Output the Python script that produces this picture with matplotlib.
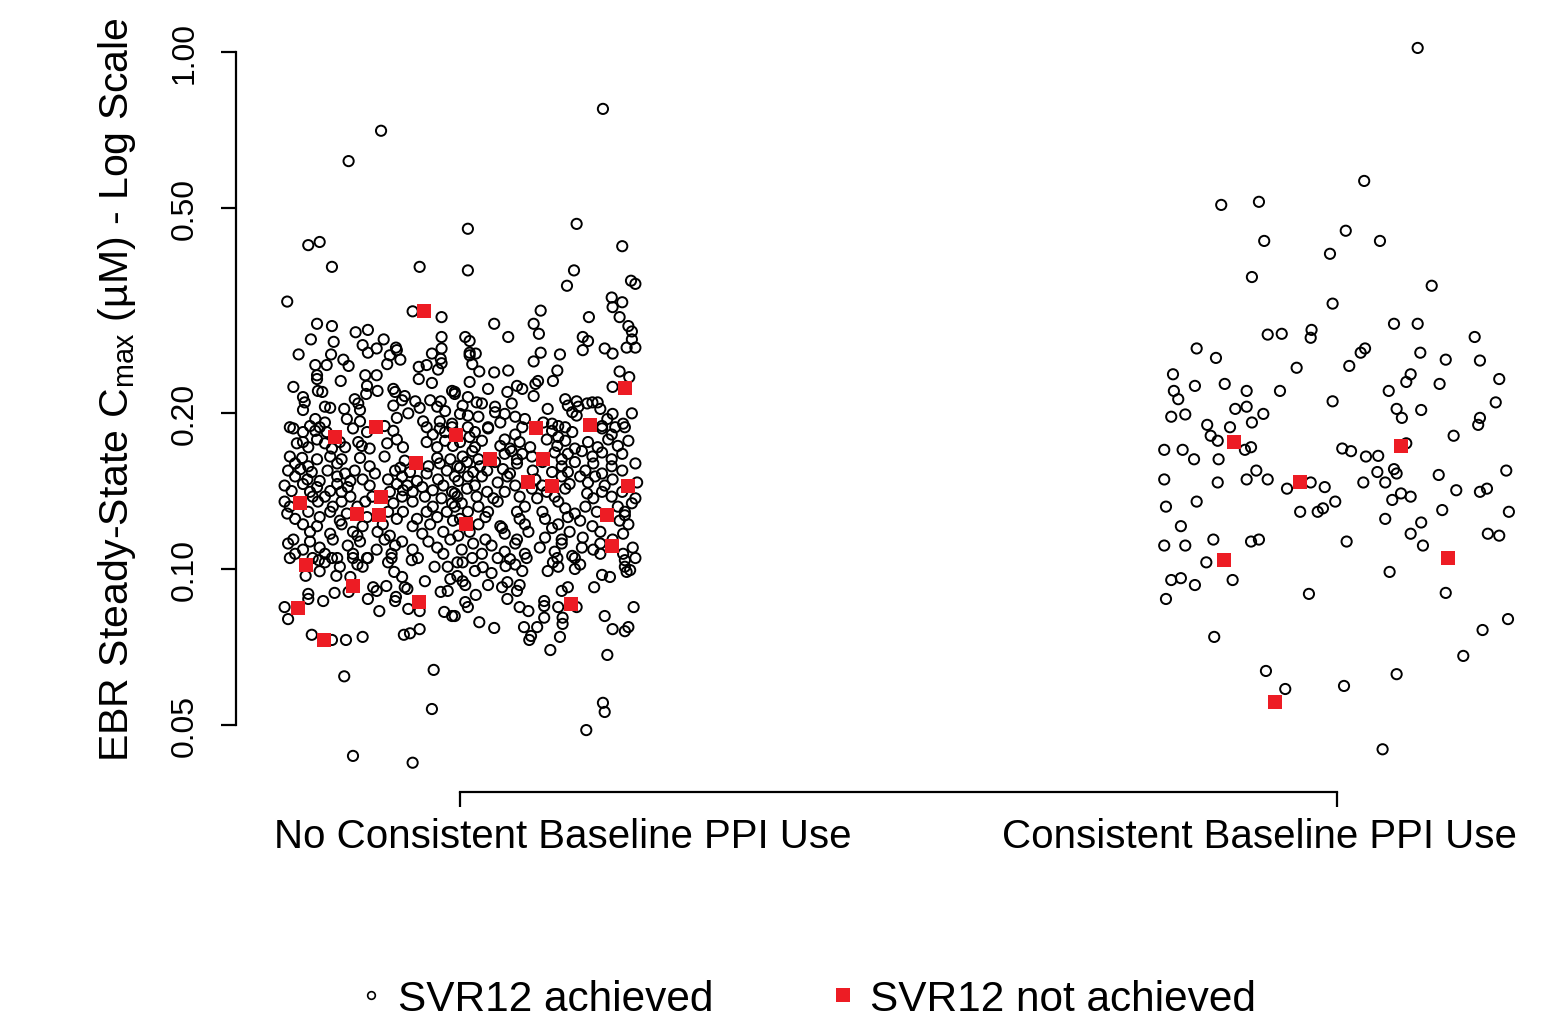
import matplotlib
matplotlib.use('Agg')
import matplotlib.pyplot as plt
from matplotlib.lines import Line2D
from matplotlib.ticker import NullLocator

plt.rcParams['font.family'] = ['Liberation Sans', 'DejaVu Sans']
plt.rcParams['mathtext.fontset'] = 'custom'
plt.rcParams['mathtext.rm'] = 'Liberation Sans'

# groups and labels
groups = ['No Consistent Baseline PPI Use', 'Consistent Baseline PPI Use']
group_pos = [1, 2]
yticks = [0.05, 0.10, 0.20, 0.50, 1.00]
ytick_labels = ['0.05', '0.10', '0.20', '0.50', '1.00']
legend_labels = ['SVR12 achieved', 'SVR12 not achieved']

# (jitter, EBR Cmax in uM)
no_ppi_achieved = [
    (-0.090, 0.704), (-0.127, 0.615), (-0.173, 0.423), (-0.160, 0.429), (-0.146, 0.384), (-0.046, 0.384),
    (0.163, 0.776), (0.009, 0.455), (0.133, 0.465), (0.185, 0.421), (0.009, 0.378), (0.130, 0.378),
    (0.122, 0.353), (0.195, 0.361), (0.200, 0.356),
    # upper cloud, left half
    (-0.197, 0.329), (-0.054, 0.315), (-0.021, 0.307), (-0.163, 0.298), (-0.146, 0.295), (-0.119, 0.287),
    (-0.105, 0.290), (-0.170, 0.278), (-0.144, 0.275), (-0.087, 0.278), (-0.021, 0.281), (-0.111, 0.271),
    (-0.095, 0.267), (-0.073, 0.268), (-0.072, 0.265), (-0.105, 0.262), (-0.021, 0.267), (-0.184, 0.260),
    (-0.147, 0.260), (-0.080, 0.259), (-0.068, 0.254), (-0.032, 0.261), (-0.022, 0.255), (-0.133, 0.254),
    (-0.165, 0.248), (-0.152, 0.248), (-0.127, 0.247), (-0.083, 0.249), (-0.047, 0.246), (-0.038, 0.248),
    (-0.021, 0.250), (-0.025, 0.243), (-0.163, 0.237), (-0.163, 0.233), (-0.108, 0.237), (-0.095, 0.237),
    (-0.136, 0.231), (-0.047, 0.233), (-0.032, 0.229), (-0.190, 0.225), (-0.162, 0.221), (-0.157, 0.220),
    (-0.106, 0.226), (-0.094, 0.221), (-0.076, 0.223), (-0.074, 0.220), (-0.063, 0.216), (-0.009, 0.221),
    (-0.179, 0.215), (-0.177, 0.210), (-0.179, 0.203), (-0.120, 0.213), (-0.116, 0.209), (-0.107, 0.218),
    (-0.066, 0.212), (-0.051, 0.211), (-0.034, 0.212), (-0.022, 0.211), (-0.154, 0.206), (-0.148, 0.205),
    (-0.132, 0.204), (-0.114, 0.203), (-0.076, 0.207), (-0.046, 0.205), (-0.026, 0.206), (-0.017, 0.202),
    (-0.059, 0.200), (-0.006, 0.218), (-0.165, 0.195), (-0.194, 0.188), (-0.154, 0.192), (-0.129, 0.195),
    (-0.114, 0.193), (-0.072, 0.196), (-0.042, 0.193), (-0.023, 0.193), (-0.009, 0.191),
    # upper cloud, right half
    (0.173, 0.335), (0.185, 0.328), (0.174, 0.321), (0.092, 0.316), (0.147, 0.307), (0.039, 0.298),
    (0.084, 0.298), (0.182, 0.307), (0.192, 0.295), (0.090, 0.285), (0.055, 0.281), (0.006, 0.281),
    (0.011, 0.276), (0.140, 0.281), (0.146, 0.276), (0.196, 0.288), (0.196, 0.278), (0.190, 0.268),
    (0.200, 0.268), (0.140, 0.265), (0.165, 0.267), (0.174, 0.261), (0.011, 0.262), (0.018, 0.261),
    (0.011, 0.259), (0.092, 0.262), (0.114, 0.260), (0.084, 0.252), (0.014, 0.249), (0.022, 0.241),
    (0.039, 0.240), (0.055, 0.242), (0.111, 0.242), (0.106, 0.231), (0.182, 0.241), (0.193, 0.235),
    (0.011, 0.230), (0.065, 0.226), (0.071, 0.223), (0.086, 0.228), (0.089, 0.231), (0.174, 0.225),
    (0.032, 0.223), (0.054, 0.220), (0.084, 0.216), (0.009, 0.215), (-0.006, 0.220), (0.120, 0.213),
    (0.133, 0.211), (0.151, 0.210), (0.157, 0.210), (0.003, 0.207), (0.019, 0.210), (0.025, 0.209),
    (0.040, 0.206), (0.059, 0.209), (0.123, 0.207), (0.135, 0.206), (0.145, 0.209), (0.160, 0.204),
    (0.100, 0.204), (0.000, 0.1995), (0.009, 0.198), (0.021, 0.197), (0.040, 0.201), (0.051, 0.1995),
    (0.063, 0.197), (0.074, 0.195), (0.128, 0.201), (0.133, 0.198), (0.174, 0.1995), (0.196, 0.200),
    (0.168, 0.195), (0.095, 0.192), (0.105, 0.191), (0.032, 0.188), (0.046, 0.192), (0.112, 0.189),
    (0.162, 0.189), (0.177, 0.188), (0.186, 0.191),
    # dense band, left half
    (-0.190, 0.187), (-0.179, 0.184), (-0.171, 0.189), (-0.165, 0.185), (-0.160, 0.188), (-0.152, 0.184),
    (-0.122, 0.187), (-0.106, 0.184), (-0.086, 0.189), (-0.076, 0.185), (-0.038, 0.188), (-0.031, 0.182),
    (-0.023, 0.187), (-0.017, 0.184), (-0.009, 0.188),
    (-0.186, 0.175), (-0.179, 0.176), (-0.173, 0.172), (-0.163, 0.178), (-0.154, 0.175), (-0.146, 0.171),
    (-0.137, 0.176), (-0.131, 0.172), (-0.116, 0.176), (-0.112, 0.173), (-0.103, 0.171), (-0.083, 0.175),
    (-0.072, 0.178), (-0.065, 0.172), (-0.038, 0.176), (-0.026, 0.172), (-0.017, 0.177), (-0.008, 0.173),
    (-0.194, 0.165), (-0.188, 0.160), (-0.180, 0.164), (-0.173, 0.158), (-0.163, 0.163), (-0.148, 0.165),
    (-0.140, 0.160), (-0.135, 0.163), (-0.114, 0.164), (-0.103, 0.158), (-0.086, 0.165), (-0.068, 0.157),
    (-0.063, 0.162), (-0.036, 0.158), (-0.026, 0.164), (-0.023, 0.160), (-0.011, 0.163), (-0.003, 0.158),
    (-0.196, 0.155), (-0.188, 0.151), (-0.182, 0.156), (-0.174, 0.149), (-0.169, 0.154), (-0.160, 0.148),
    (-0.151, 0.155), (-0.140, 0.151), (-0.131, 0.153), (-0.125, 0.148), (-0.120, 0.155), (-0.111, 0.149),
    (-0.097, 0.153), (-0.082, 0.149), (-0.074, 0.155), (-0.066, 0.151), (-0.057, 0.154), (-0.049, 0.148),
    (-0.038, 0.153), (-0.025, 0.149), (-0.015, 0.155), (-0.006, 0.151),
    (-0.200, 0.145), (-0.192, 0.1415), (-0.179, 0.146), (-0.171, 0.141), (-0.163, 0.144), (-0.148, 0.1415),
    (-0.140, 0.146), (-0.135, 0.141), (-0.128, 0.144), (-0.103, 0.145), (-0.080, 0.141), (-0.072, 0.146),
    (-0.065, 0.142), (-0.060, 0.145), (-0.054, 0.141), (-0.043, 0.144), (-0.031, 0.142), (-0.019, 0.145),
    (-0.009, 0.141),
    (-0.200, 0.135), (-0.194, 0.132), (-0.168, 0.138), (-0.162, 0.135), (-0.154, 0.138), (-0.145, 0.132),
    (-0.135, 0.135), (-0.125, 0.138), (-0.117, 0.132), (-0.108, 0.135), (-0.100, 0.138), (-0.076, 0.134),
    (-0.066, 0.138), (-0.054, 0.135), (-0.040, 0.138), (-0.031, 0.132), (-0.021, 0.137), (-0.009, 0.134),
    (-0.003, 0.138),
    (-0.197, 0.128), (-0.188, 0.125), (-0.173, 0.129), (-0.160, 0.126), (-0.148, 0.129), (-0.137, 0.124),
    (-0.129, 0.128), (-0.106, 0.126), (-0.082, 0.129), (-0.072, 0.125), (-0.065, 0.129), (-0.049, 0.125),
    (-0.038, 0.129), (-0.026, 0.126), (-0.015, 0.129), (-0.008, 0.124),
    (-0.179, 0.122), (-0.171, 0.118), (-0.163, 0.121), (-0.148, 0.117), (-0.135, 0.122), (-0.122, 0.118),
    (-0.117, 0.116), (-0.111, 0.121), (-0.094, 0.118), (-0.088, 0.122), (-0.080, 0.116), (-0.054, 0.121),
    (-0.043, 0.117), (-0.034, 0.122), (-0.019, 0.118),
    (-0.196, 0.112), (-0.190, 0.114), (-0.179, 0.109), (-0.171, 0.113), (-0.160, 0.110), (-0.145, 0.114),
    (-0.128, 0.111), (-0.114, 0.113), (-0.095, 0.109), (-0.086, 0.114), (-0.074, 0.111), (-0.066, 0.113),
    (-0.054, 0.109), (-0.036, 0.113), (-0.026, 0.110), (-0.011, 0.114),
    (-0.188, 0.107), (-0.168, 0.105), (-0.154, 0.107), (-0.140, 0.105), (-0.122, 0.107), (-0.106, 0.105),
    (-0.078, 0.107), (-0.048, 0.105), (-0.019, 0.107),
    # dense band, right half
    (0.009, 0.188), (0.017, 0.184), (0.032, 0.187), (0.063, 0.182), (0.071, 0.188), (0.105, 0.185),
    (0.112, 0.180), (0.120, 0.188), (0.128, 0.184), (0.162, 0.187), (0.173, 0.182), (0.188, 0.188),
    (0.000, 0.176), (0.011, 0.180), (0.017, 0.172), (0.025, 0.177), (0.046, 0.173), (0.051, 0.178),
    (0.057, 0.171), (0.068, 0.176), (0.080, 0.172), (0.099, 0.178), (0.111, 0.173), (0.120, 0.177),
    (0.131, 0.171), (0.146, 0.176), (0.157, 0.172), (0.169, 0.178), (0.180, 0.173), (0.192, 0.177),
    (0.003, 0.165), (0.014, 0.169), (0.021, 0.163), (0.051, 0.167), (0.059, 0.169), (0.065, 0.163),
    (0.071, 0.167), (0.082, 0.165), (0.108, 0.168), (0.116, 0.163), (0.123, 0.167), (0.139, 0.169),
    (0.151, 0.165), (0.162, 0.168), (0.173, 0.163), (0.185, 0.167),
    (0.000, 0.157), (0.008, 0.161), (0.015, 0.154), (0.023, 0.158), (0.031, 0.155), (0.040, 0.161),
    (0.049, 0.156), (0.057, 0.153), (0.065, 0.160), (0.083, 0.155), (0.094, 0.161), (0.105, 0.154),
    (0.116, 0.158), (0.123, 0.154), (0.131, 0.161), (0.143, 0.155), (0.152, 0.160), (0.162, 0.153),
    (0.173, 0.158), (0.185, 0.155), (0.200, 0.160),
    (-0.002, 0.148), (0.009, 0.151), (0.017, 0.145), (0.025, 0.151), (0.043, 0.147), (0.054, 0.151),
    (0.063, 0.145), (0.086, 0.149), (0.094, 0.145), (0.116, 0.151), (0.125, 0.146), (0.137, 0.151),
    (0.146, 0.147), (0.154, 0.151), (0.165, 0.145), (0.174, 0.149), (0.202, 0.147),
    (-0.006, 0.140), (0.008, 0.143), (0.019, 0.138), (0.031, 0.141), (0.038, 0.137), (0.051, 0.141),
    (0.068, 0.138), (0.082, 0.143), (0.088, 0.137), (0.099, 0.141), (0.108, 0.138), (0.120, 0.143),
    (0.145, 0.140), (0.152, 0.137), (0.162, 0.141), (0.173, 0.138), (0.185, 0.141), (0.200, 0.137),
    (-0.006, 0.132), (0.002, 0.134), (0.009, 0.129), (0.021, 0.132), (0.032, 0.129), (0.043, 0.135),
    (0.065, 0.129), (0.074, 0.132), (0.094, 0.129), (0.112, 0.135), (0.120, 0.131), (0.131, 0.128),
    (0.143, 0.132), (0.156, 0.129), (0.180, 0.132), (0.188, 0.129), (0.196, 0.134),
    (0.000, 0.125), (0.021, 0.122), (0.029, 0.126), (0.046, 0.121), (0.068, 0.125), (0.074, 0.122),
    (0.097, 0.125), (0.112, 0.122), (0.123, 0.126), (0.137, 0.124), (0.151, 0.121), (0.182, 0.124),
    (0.188, 0.127), (0.192, 0.122),
    (-0.002, 0.116), (0.011, 0.118), (0.029, 0.114), (0.048, 0.120), (0.051, 0.117), (0.065, 0.114),
    (0.078, 0.118), (0.097, 0.115), (0.105, 0.120), (0.116, 0.114), (0.125, 0.118), (0.140, 0.115),
    (0.160, 0.118), (0.174, 0.114), (0.186, 0.117),
    (0.002, 0.109), (0.015, 0.112), (0.025, 0.107), (0.036, 0.111), (0.051, 0.108), (0.063, 0.112),
    (0.074, 0.107), (0.091, 0.110), (0.108, 0.108), (0.116, 0.112), (0.128, 0.106), (0.139, 0.110),
    (0.152, 0.109), (0.160, 0.112), (0.186, 0.107), (0.197, 0.110),
    # lower cloud, left half
    (-0.194, 0.105), (-0.161, 0.104), (-0.154, 0.103), (-0.146, 0.105), (-0.122, 0.105), (-0.117, 0.102),
    (-0.111, 0.101), (-0.105, 0.105), (-0.137, 0.101), (-0.078, 0.105), (-0.082, 0.103), (-0.055, 0.104),
    (-0.029, 0.101), (-0.014, 0.101), (-0.003, 0.103),
    (-0.176, 0.097), (-0.160, 0.099), (-0.141, 0.097), (-0.125, 0.0965), (-0.075, 0.0987), (-0.066, 0.0965),
    (-0.040, 0.0947), (-0.011, 0.0956),
    (-0.143, 0.0899), (-0.127, 0.0903), (-0.099, 0.0922), (-0.095, 0.0907), (-0.084, 0.0927), (-0.063, 0.0922),
    (-0.060, 0.0915), (-0.022, 0.0903), (-0.014, 0.0907),
    (-0.173, 0.0895), (-0.173, 0.0875), (-0.156, 0.0867), (-0.105, 0.0875), (-0.073, 0.0883), (-0.074, 0.0867),
    (-0.200, 0.0844), (-0.196, 0.0800), (-0.092, 0.0829), (-0.059, 0.0837), (-0.046, 0.0829), (-0.018, 0.0826),
    (-0.009, 0.0811),
    (-0.169, 0.0746), (-0.146, 0.0729), (-0.130, 0.0729), (-0.111, 0.0739), (-0.064, 0.0746), (-0.057, 0.0751),
    (-0.046, 0.0765),
    (-0.132, 0.0620), (-0.030, 0.0638), (-0.032, 0.0536), (-0.122, 0.0435), (-0.054, 0.0422),
    # lower cloud, right half
    (0.014, 0.105), (0.003, 0.103), (0.043, 0.105), (0.057, 0.1045), (0.063, 0.102), (0.076, 0.105),
    (0.111, 0.105), (0.131, 0.105), (0.106, 0.103), (0.112, 0.101), (0.137, 0.102), (0.131, 0.100),
    (0.160, 0.107), (0.188, 0.104), (0.200, 0.105), (0.188, 0.101), (0.194, 0.0995), (0.190, 0.0987),
    (-0.003, 0.0969), (0.017, 0.0991), (0.026, 0.1008), (0.036, 0.0982), (0.052, 0.1013), (0.071, 0.0991),
    (0.100, 0.0991),
    (0.003, 0.0947), (0.006, 0.0931), (0.032, 0.0931), (0.048, 0.0922), (0.054, 0.0943), (0.068, 0.0931),
    (0.065, 0.0907), (0.116, 0.0907), (0.123, 0.0922), (0.153, 0.0922), (0.162, 0.0974), (0.171, 0.0965),
    (0.018, 0.0891), (0.006, 0.0863), (0.009, 0.0844), (0.054, 0.0875), (0.068, 0.0844), (0.078, 0.0829),
    (0.096, 0.0867), (0.096, 0.0848), (0.112, 0.0844), (0.133, 0.0844), (0.198, 0.0844),
    (-0.006, 0.0811), (0.022, 0.0789), (0.039, 0.0769), (0.073, 0.0772), (0.088, 0.0772), (0.081, 0.0742),
    (0.079, 0.0729), (0.096, 0.0805), (0.117, 0.0805), (0.117, 0.0783), (0.114, 0.0739), (0.103, 0.0697),
    (0.165, 0.0811), (0.174, 0.0765), (0.188, 0.0758), (0.192, 0.0772), (0.168, 0.0682), (0.163, 0.0551),
    (0.165, 0.0529), (0.144, 0.0488),
]

no_ppi_failed = [
    (-0.041, 0.315), (0.188, 0.224), (-0.143, 0.180), (-0.096, 0.188), (-0.005, 0.182), (0.087, 0.187),
    (0.148, 0.190), (-0.050, 0.160), (0.034, 0.163), (0.095, 0.163), (-0.182, 0.134), (-0.090, 0.138),
    (0.078, 0.147), (0.105, 0.145), (0.192, 0.145), (-0.117, 0.128), (-0.092, 0.127), (0.168, 0.127),
    (0.007, 0.122), (0.173, 0.111), (-0.176, 0.102), (-0.122, 0.0927), (-0.185, 0.0841), (-0.047, 0.0863),
    (0.127, 0.0856), (-0.155, 0.0729),
]

ppi_achieved = [
    (0.092, 1.018), (0.031, 0.563), (-0.132, 0.506), (-0.089, 0.513), (0.010, 0.451), (-0.083, 0.431),
    (0.049, 0.431), (-0.008, 0.407), (-0.097, 0.367), (0.108, 0.353), (-0.005, 0.326), (0.065, 0.298),
    (0.092, 0.298),
    (0.157, 0.281), (-0.079, 0.284), (-0.063, 0.285), (-0.029, 0.290), (-0.030, 0.280), (-0.160, 0.267),
    (-0.138, 0.256), (0.027, 0.262), (0.032, 0.267), (0.095, 0.262), (0.124, 0.254), (0.163, 0.253),
    (-0.187, 0.238), (-0.046, 0.245), (0.014, 0.247), (0.084, 0.238), (0.079, 0.230), (0.117, 0.228),
    (0.185, 0.233), (-0.162, 0.226), (-0.128, 0.228), (-0.186, 0.221), (-0.181, 0.213), (-0.103, 0.221),
    (-0.065, 0.221), (0.059, 0.221), (-0.005, 0.211), (0.181, 0.210),
    (-0.189, 0.197), (-0.173, 0.199), (-0.116, 0.204), (-0.103, 0.206), (-0.084, 0.1995), (-0.097, 0.192),
    (0.068, 0.204), (0.074, 0.196), (0.096, 0.203), (0.163, 0.196), (0.161, 0.190), (-0.148, 0.190),
    (-0.122, 0.188), (-0.144, 0.181), (-0.136, 0.177), (0.133, 0.181), (0.079, 0.175),
    (-0.197, 0.170), (-0.176, 0.170), (-0.163, 0.163), (-0.135, 0.163), (-0.098, 0.172), (-0.105, 0.170),
    (0.006, 0.171), (0.016, 0.169), (0.033, 0.165), (0.047, 0.1655), (0.065, 0.156), (0.068, 0.153),
    (0.046, 0.154),
    (-0.197, 0.149), (-0.136, 0.147), (-0.103, 0.149), (-0.092, 0.155), (-0.079, 0.149), (-0.057, 0.143),
    (-0.030, 0.147), (-0.014, 0.144), (0.030, 0.147), (0.055, 0.147), (0.116, 0.152), (0.193, 0.155),
    (0.136, 0.142), (0.163, 0.141), (0.171, 0.143), (0.073, 0.140), (0.063, 0.136), (0.084, 0.138),
    (-0.195, 0.132), (-0.160, 0.135), (-0.002, 0.135), (-0.016, 0.131), (-0.022, 0.129), (-0.042, 0.129),
    (0.120, 0.130), (0.196, 0.129), (-0.178, 0.121), (0.055, 0.125), (0.096, 0.123), (0.084, 0.117),
    (0.172, 0.117), (0.185, 0.116),
    (-0.197, 0.111), (-0.173, 0.111), (-0.141, 0.114), (-0.098, 0.113), (-0.089, 0.114), (0.011, 0.113),
    (0.098, 0.111), (-0.149, 0.103),
    (-0.189, 0.0952), (-0.178, 0.0960), (-0.162, 0.0931), (-0.119, 0.0952), (0.060, 0.0987), (-0.195, 0.0875),
    (-0.032, 0.0895), (0.124, 0.0899),
    (0.195, 0.0800), (0.166, 0.0762), (-0.140, 0.0739), (0.144, 0.0679), (-0.081, 0.0635), (0.068, 0.0626),
    (-0.059, 0.0586), (0.008, 0.0594), (0.052, 0.0448),
]

ppi_failed = [
    (-0.117, 0.176), (0.073, 0.173), (-0.042, 0.147), (0.127, 0.105), (-0.129, 0.104), (-0.071, 0.0553),
]

red = '#ED1C24'

fig = plt.figure(figsize=(15.53, 10.20), dpi=100)
ax = fig.add_axes([236 / 1553, 227 / 1020, 1317 / 1553, 773 / 1020])
ax.set_yscale('log')

for pos, ok, bad in [(group_pos[0], no_ppi_achieved, no_ppi_failed),
                     (group_pos[1], ppi_achieved, ppi_failed)]:
    ax.scatter([pos + j for j, v in ok], [v for j, v in ok], s=54, marker='o',
               facecolors='none', edgecolors='black', linewidths=1.4, zorder=2)
    ax.scatter([pos + j for j, v in bad], [v for j, v in bad], s=88, marker='s',
               color=red, linewidths=0, zorder=3)

ax.set_xlim(0.7446, 2.2463)
ax.set_ylim(0.03704, 1.158)

for s in ['top', 'right']:
    ax.spines[s].set_visible(False)
ax.spines['left'].set_bounds(0.05, 1.0)
ax.spines['bottom'].set_bounds(1, 2)
ax.spines['left'].set_linewidth(1.6)
ax.spines['bottom'].set_linewidth(1.6)

ax.set_yticks(yticks)
ax.set_yticklabels(ytick_labels, rotation=90, va='center')
ax.yaxis.set_minor_locator(NullLocator())
ax.tick_params(axis='y', length=11, width=1.6, pad=15, labelsize=23)

ax.set_xticks(group_pos)
ax.set_xticklabels(['', ''])
ax.tick_params(axis='x', length=11, width=1.6)

# category labels sit off the tick centres in the original
ax.text(1.117, -0.057, groups[0], transform=ax.get_xaxis_transform(),
        ha='center', va='center', fontsize=29)
ax.text(1.912, -0.057, groups[1], transform=ax.get_xaxis_transform(),
        ha='center', va='center', fontsize=29)

fig.text(117 / 1553, 1 - 390 / 1020,
         r'EBR Steady-State C$_{\mathregular{max}}$ (µM) - Log Scale',
         rotation=90, ha='center', va='center', fontsize=29.5)

handles = [Line2D([], [], marker='o', linestyle='none', markersize=5.5,
                  markerfacecolor='none', markeredgecolor='black', markeredgewidth=1.2),
           Line2D([], [], marker='s', linestyle='none', markersize=9.5,
                  markerfacecolor=red, markeredgewidth=0)]
fig.legend(handles, legend_labels, loc='center left', bbox_to_anchor=(358 / 1553, 1 - 1000 / 1020),
           ncol=2, frameon=False, fontsize=30.5, handlelength=0.6, handletextpad=0.35,
           columnspacing=2.75, borderpad=0, borderaxespad=0)

fig.savefig('out.png', dpi=100)
